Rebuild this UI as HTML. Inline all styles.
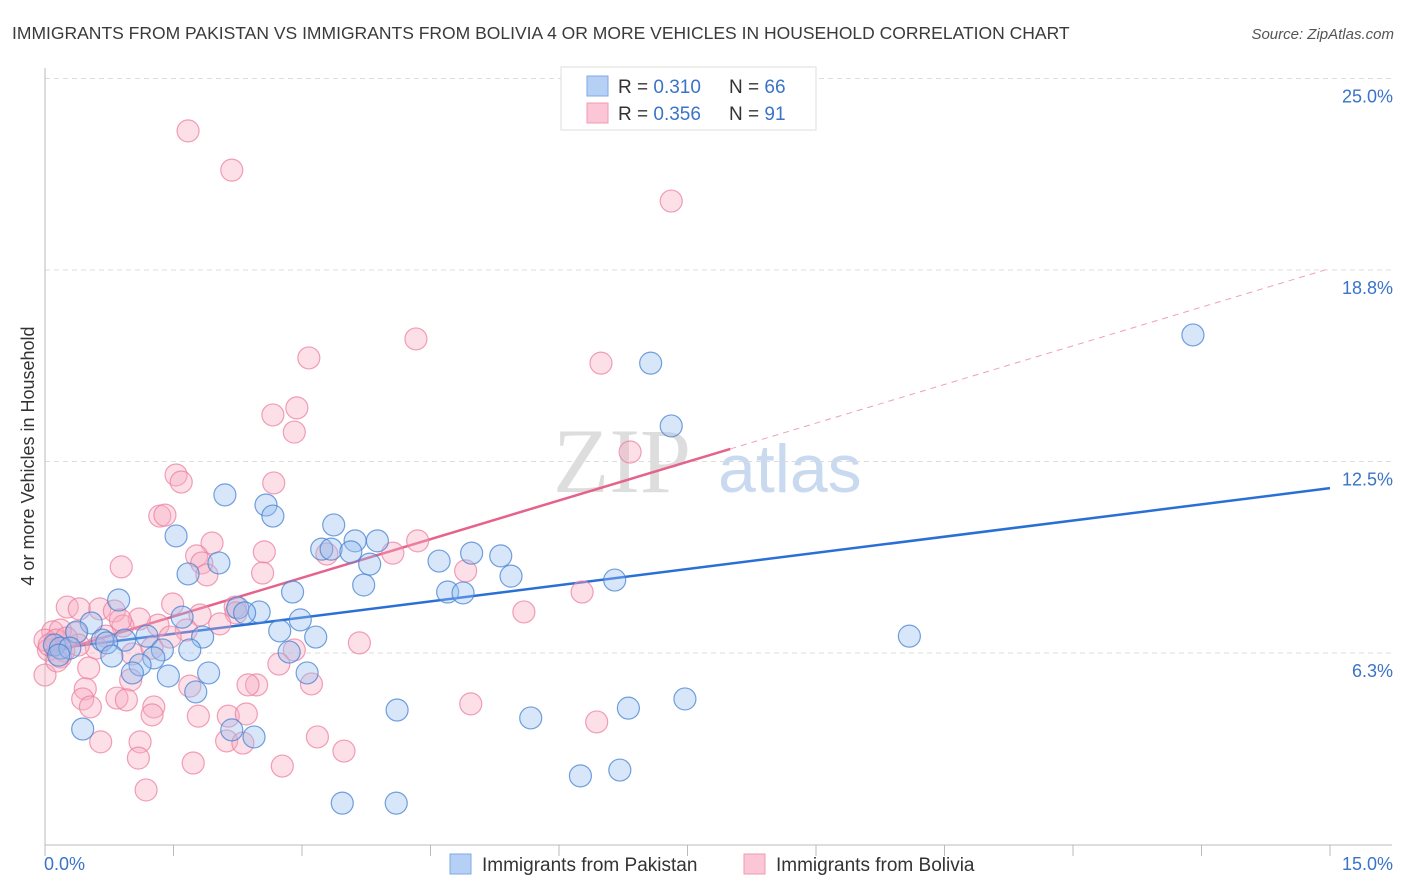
<!DOCTYPE html>
<html><head><meta charset="utf-8"><style>
body{margin:0;background:#fff;font-family:"Liberation Sans",sans-serif}
svg{display:block}
</style></head><body>
<svg id="chart" width="1406" height="892" xmlns="http://www.w3.org/2000/svg" font-family="Liberation Sans, sans-serif">
<text x="12" y="39" font-size="17.5" fill="#3a3a3a">IMMIGRANTS FROM PAKISTAN VS IMMIGRANTS FROM BOLIVIA 4 OR MORE VEHICLES IN HOUSEHOLD CORRELATION CHART</text>
<text x="1394" y="39" font-size="15" fill="#555" font-style="italic" text-anchor="end">Source: ZipAtlas.com</text>
<g>
<text x="553" y="492" font-size="92" font-family="Liberation Serif, serif" fill="#ddd">ZIP</text>
<text x="718" y="492" font-size="68" fill="#c9daf0">atlas</text>
</g>
<g id="grid"></g>
<g id="axes"></g>
<g id="trends"></g>
<g id="points"></g>
<g>
<rect x="561" y="67" width="255" height="63" fill="#fff" stroke="#ddd"/>
<rect x="587" y="76" width="21" height="20" fill="#b6d0f5" stroke="#7ea9e6"/>
<rect x="587" y="103" width="21" height="20" fill="#fbc7d6" stroke="#f29ab4"/>
<text x="618" y="93" font-size="19" fill="#333">R = <tspan fill="#3a73c8">0.310</tspan></text>
<text x="729" y="93" font-size="19" fill="#333">N = <tspan fill="#3a73c8">66</tspan></text>
<text x="618" y="120" font-size="19" fill="#333">R = <tspan fill="#3a73c8">0.356</tspan></text>
<text x="729" y="120" font-size="19" fill="#333">N = <tspan fill="#3a73c8"> 91</tspan></text>
</g>
<g>
<rect x="450" y="854" width="21" height="20" fill="#b6d0f5" stroke="#7ea9e6"/>
<text x="482" y="871" font-size="19" fill="#333">Immigrants from Pakistan</text>
<rect x="744" y="854" width="21" height="20" fill="#fbc7d6" stroke="#f29ab4"/>
<text x="776" y="871" font-size="19" fill="#333">Immigrants from Bolivia</text>
</g>
</svg>
<script>
const yTicks=[6.25,12.5,18.75,25];
const yTickLabels=["6.3%","12.5%","18.8%","25.0%"];
const xTickCount=10;
const xMax=15;
const blueX=[13.40,7.07,7.31,2.10,2.58,2.66,3.37,1.53,3.62,3.88,3.23,3.34,3.57,4.98,5.32,2.03,3.79,4.60,1.67,5.44,6.65,3.72,2.89,4.70,4.88,0.86,2.25,2.50,2.33,1.60,2.98,0.54,2.74,1.19,1.84,3.16,10.09,0.93,0.37,0.67,0.11,0.18,0.29,0.72,1.37,1.69,0.78,1.27,0.16,1.11,1.91,3.06,2.85,1.44,1.02,1.76,7.47,4.11,6.81,5.67,0.44,2.18,2.44,6.71,6.25,3.47,4.10];
const blueY=[16.63,15.71,13.66,11.41,11.08,10.72,10.43,10.07,9.91,9.91,9.64,9.64,9.55,9.51,9.42,9.19,9.15,9.25,8.83,8.76,8.63,8.47,8.24,8.24,8.21,7.98,7.72,7.59,7.56,7.42,7.33,7.23,6.97,6.80,6.77,6.77,6.80,6.67,6.94,6.67,6.51,6.41,6.41,6.58,6.35,6.35,6.15,6.09,6.18,5.86,5.60,5.60,6.28,5.50,5.60,4.98,4.75,4.39,4.45,4.13,3.77,3.74,3.51,2.43,2.24,1.35,1.35];
const pinkX=[1.67,2.18,7.31,4.33,3.08,6.49,2.94,2.66,2.91,6.83,1.53,1.59,2.67,1.34,1.40,1.95,2.56,3.29,4.06,4.35,1.77,0.89,1.83,2.54,1.89,4.91,6.27,0.26,0.40,0.64,0.81,1.49,2.22,5.59,1.81,2.23,1.32,1.10,0.91,0.36,0.09,0.18,0.71,1.65,1.46,0.00,2.04,3.67,2.91,0.04,0.22,0.60,1.02,1.25,0.18,2.73,0.51,0.00,1.00,1.69,2.47,2.37,3.11,0.47,0.44,0.84,0.95,1.27,4.97,0.53,1.79,2.14,2.35,1.25,6.44,0.65,1.11,2.12,2.31,3.18,3.49,1.09,1.73,2.77,1.18,0.13,0.39,0.25,0.05,0.14,0.88];
const pinkY=[23.29,22.01,21.00,16.50,15.88,15.71,14.25,14.02,13.46,12.81,12.06,11.83,11.80,10.72,10.75,9.84,9.55,9.48,9.51,9.91,9.42,9.06,9.19,8.86,8.80,8.93,8.24,7.75,7.69,7.69,7.62,7.85,7.75,7.59,7.49,7.56,7.16,7.36,7.13,6.90,6.94,7.00,6.80,7.00,6.77,6.67,7.20,6.58,6.35,6.35,6.32,6.41,6.22,6.41,6.12,5.89,5.76,5.53,5.37,5.17,5.21,5.21,5.24,5.08,4.75,4.78,4.72,4.49,4.59,4.49,4.19,4.19,4.26,4.23,4.00,3.35,3.35,3.38,3.31,3.51,3.05,2.82,2.66,2.56,1.78,6.67,6.51,6.74,6.51,5.99,7.33];
const blueTrend=[6.35,11.63];
const pinkTrend=[6.18,18.80];
const pinkSolidEnd=8.0;

const NS="http://www.w3.org/2000/svg";
const X0=45,X1=1330,Y0=844.5,YPER=191.5/6.25;
const sx=v=>X0+v/xMax*(X1-X0);
const sy=v=>Y0-v*YPER;
function mk(tag,attrs,parent){const e=document.createElementNS(NS,tag);for(const k in attrs)e.setAttribute(k,attrs[k]);parent.appendChild(e);return e;}
const grid=document.getElementById('grid'),axes=document.getElementById('axes'),trends=document.getElementById('trends'),pts=document.getElementById('points');
yTicks.forEach((t,i)=>{
 const l=mk('line',{x1:X0,x2:1392,y1:sy(t),y2:sy(t),stroke:'#ddd','stroke-dasharray':'5,4'},grid);
 
 
 const tx=mk('text',{x:1393,y:sy(t)+24,'font-size':18,fill:'#3a73c8','text-anchor':'end'},grid);
 tx.textContent=yTickLabels[i];
 
 
});
mk('line',{x1:X0,x2:X0,y1:68,y2:845,stroke:'#bbb'},axes);
mk('line',{x1:X0,x2:1392,y1:845,y2:845,stroke:'#bbb'},axes);
for(let i=0;i<=xTickCount;i++){
 const x=sx(i*xMax/xTickCount);
 const t=mk('line',{x1:x,x2:x,y1:845,y2:856,stroke:'#bbb'},axes);
 
 
}
const xl0=mk('text',{x:44,y:870,'font-size':18,fill:'#3a73c8'},axes);xl0.textContent='0.0%';


const xl1=mk('text',{x:1393,y:870,'font-size':18,fill:'#3a73c8','text-anchor':'end'},axes);xl1.textContent='15.0%';


const yt=mk('text',{x:34,y:456,'font-size':18,fill:'#333','text-anchor':'middle',transform:'rotate(-90 34 456)'},axes);yt.textContent='4 or more Vehicles in Household';



function drawPts(xs,ys,fill,stroke,name){
 xs.forEach((v,i)=>{
  const c=mk('circle',{cx:sx(v),cy:sy(ys[i]),r:11,fill:fill,stroke:stroke,'stroke-width':1.2},pts);
  
  
 });
}
drawPts(pinkX,pinkY,'rgba(248,170,192,0.38)','rgba(236,128,160,0.75)','bolivia-point');
drawPts(blueX,blueY,'rgba(150,190,240,0.38)','rgba(70,130,210,0.75)','pakistan-point');
const lin=(tr,x)=>tr[0]+(tr[1]-tr[0])*x/xMax;
let b=mk('line',{x1:sx(0),y1:sy(lin(blueTrend,0)),x2:sx(xMax),y2:sy(lin(blueTrend,xMax)),stroke:'#2a6fd6','stroke-width':2.5},trends);


let p=mk('line',{x1:sx(0),y1:sy(lin(pinkTrend,0)),x2:sx(pinkSolidEnd),y2:sy(lin(pinkTrend,pinkSolidEnd)),stroke:'#e6628a','stroke-width':2.5},trends);


let pd=mk('line',{x1:sx(pinkSolidEnd),y1:sy(lin(pinkTrend,pinkSolidEnd)),x2:sx(xMax),y2:sy(lin(pinkTrend,xMax)),stroke:'#eea0b8','stroke-width':1,'stroke-dasharray':'6,5'},trends);


</script>
</body></html>
